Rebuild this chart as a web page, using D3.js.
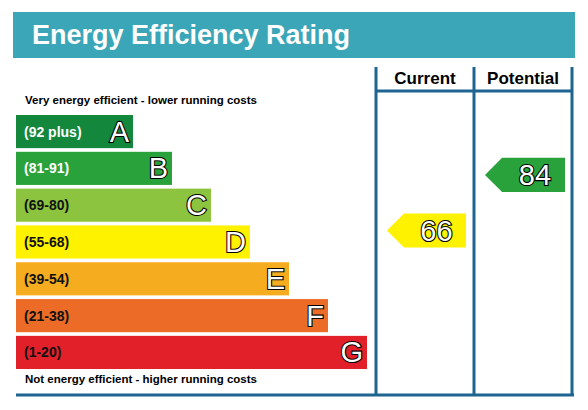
<!DOCTYPE html>
<html>
<head>
<meta charset="utf-8">
<style>
  body { margin: 0; background: #fff; }
  text { font-family: "Liberation Sans", Arial, sans-serif; }
</style>
</head>
<body>
<svg width="588" height="410"></svg>
<script src="https://d3js.org/d3.v7.min.js"></script>
<script>
    let bands = ["A", "B", "C", "D", "E", "F", "G"]
    let ranges = ["(92 plus)", "(81-91)", "(69-80)", "(55-68)", "(39-54)", "(21-38)", "(1-20)"]
    let colors = ["#13873b", "#2aa23b", "#8cc43f", "#fff200", "#f6ac1f", "#ec6b26", "#e2202a"]
    let lower = [92, 81, 69, 55, 39, 21, 1]
    let currentRating = 66
    let potentialRating = 84

    let svg = d3.select("svg")

    // title band
    svg.append("rect").attr("x", 13).attr("y", 12).attr("width", 562).attr("height", 46).style("fill", "#3ba6b8")
    svg.append("text").attr("x", 32).attr("y", 44).text("Energy Efficiency Rating")
        .style("fill", "#fff").style("font-size", "27px").style("font-weight", "bold")

    let y = d3.scaleBand().domain(bands).range([115, 369]).paddingInner(0.1)
    let w = d3.scaleLinear().domain([0, 6]).range([117, 351])

    function band(r) { return bands[lower.findIndex(l => r >= l)] }

    let g = svg.append("g")
    g.selectAll("rect").data(bands).join("rect")
        .attr("x", 16).attr("y", d => y(d))
        .attr("width", (d, i) => w(i)).attr("height", y.bandwidth())
        .style("fill", (d, i) => colors[i])
    g.selectAll(".rng").data(bands).join("text")
        .attr("x", 24).attr("y", d => y(d) + y.bandwidth() / 2 + 5)
        .text((d, i) => ranges[i])
        .style("font-size", "14px").style("font-weight", "bold")
        .style("fill", (d, i) => i < 2 ? "#fff" : "#111")
    g.selectAll(".ltr").data(bands).join("text")
        .attr("x", (d, i) => 16 + w(i) - 4).attr("y", d => y(d) + y.bandwidth() / 2 + 10)
        .attr("text-anchor", "end").text(d => d)
        .style("font-size", "29px").style("fill", "#fff")
        .style("stroke", "#000").style("stroke-width", 2.2).style("paint-order", "stroke")

    svg.append("text").attr("x", 25).attr("y", 104).text("Very energy efficient - lower running costs")
        .style("font-size", "11.5px").style("font-weight", "bold")
    svg.append("text").attr("x", 25).attr("y", 383).text("Not energy efficient - higher running costs")
        .style("font-size", "11.5px").style("font-weight", "bold")

    // columns
    let blue = "#1d6491"
    let lines = svg.append("g").style("stroke", blue).style("stroke-width", 3)
    ;[376, 474, 572].forEach(x => lines.append("line").attr("x1", x).attr("x2", x).attr("y1", 67).attr("y2", 396))
    lines.append("line").attr("x1", 376).attr("x2", 572).attr("y1", 91).attr("y2", 91)
    lines.append("line").attr("x1", 16).attr("x2", 574).attr("y1", 395).attr("y2", 395)

    svg.append("text").attr("x", 425).attr("y", 84).attr("text-anchor", "middle").text("Current")
        .style("font-size", "17px").style("font-weight", "bold")
    svg.append("text").attr("x", 523).attr("y", 84).attr("text-anchor", "middle").text("Potential")
        .style("font-size", "17px").style("font-weight", "bold")

    function arrow(rating, x0, x1, dy) {
        let b = band(rating)
        let i = bands.indexOf(b)
        let top = y(b) + dy, h = y.bandwidth() + 1
        svg.append("path")
            .attr("d", `M${x0},${top + h / 2} L${x0 + h / 2},${top} L${x1},${top} L${x1},${top + h} L${x0 + h / 2},${top + h} Z`)
            .style("fill", colors[i])
        svg.append("text").attr("x", (x0 + x1) / 2 + 10).attr("y", top + h / 2 + 10)
            .attr("text-anchor", "middle").text(rating)
            .style("font-size", "29px").style("fill", "#fff")
            .style("stroke", "#000").style("stroke-width", 2.2).style("paint-order", "stroke")
    }
    arrow(currentRating, 387, 466, -12)
    arrow(potentialRating, 485, 565, 6)
</script>
</body>
</html>
